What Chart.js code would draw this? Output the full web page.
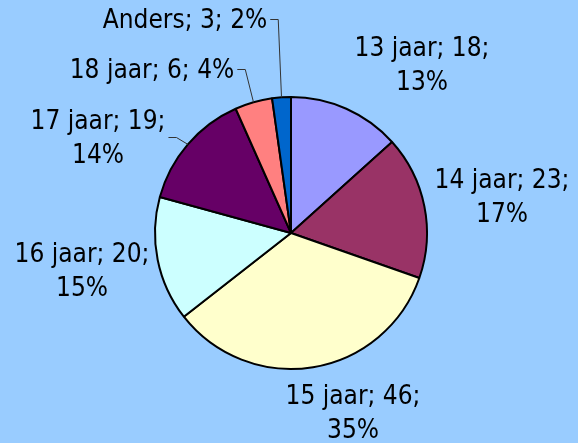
<!DOCTYPE html>
<html>
<head>
<meta charset="utf-8">
<script src="https://cdn.jsdelivr.net/npm/chart.js@4.4.0/dist/chart.umd.min.js"></script>
<style>
  html, body { margin: 0; padding: 0; background: #99CCFF; }
  #wrap { width: 578px; height: 443px; }
</style>
</head>
<body>
<div id="wrap"><canvas id="pie-chart" width="578" height="443"></canvas></div>
<script>
// data
var categories = ["13 jaar", "14 jaar", "15 jaar", "16 jaar", "17 jaar", "18 jaar", "Anders"];
var counts = [18, 23, 46, 20, 19, 6, 3];
var percents = ["13%", "17%", "35%", "15%", "14%", "4%", "2%"];
var sliceColors = ["#9999FF", "#993366", "#FFFFCC", "#CCFFFF", "#660066", "#FF8080", "#0066CC"];

// where each label sits, relative to the pie centre (x = text centre, y = first baseline)
var labelPlace = [
  { dx: 131, dy: -177, lines: 2, leader: false },
  { dx: 211, dy: -45, lines: 2, leader: false },
  { dx: 62, dy: 171, lines: 2, leader: false },
  { dx: -209, dy: 29, lines: 2, leader: false },
  { dx: -193, dy: -104, lines: 2, leader: true },
  { dx: -139, dy: -155, lines: 1, leader: true },
  { dx: -106, dy: -205, lines: 1, leader: true }
];

var labelFont = '26px "DejaVu Sans Condensed", "Liberation Sans", sans-serif';
var lineHeight = 34;

var pieLabels = {
  id: 'pieLabels',
  afterDatasetsDraw: function (chart) {
    var ctx = chart.ctx;
    var meta = chart.getDatasetMeta(0);
    ctx.save();
    ctx.font = labelFont;
    ctx.fillStyle = '#000';
    ctx.textAlign = 'center';
    ctx.textBaseline = 'alphabetic';
    meta.data.forEach(function (arc, i) {
      var p = labelPlace[i];
      var cx = arc.x + p.dx;
      var by = arc.y + p.dy;
      var lines;
      if (p.lines == 2) {
        lines = [categories[i] + "; " + counts[i] + ";", percents[i]];
      } else {
        lines = [categories[i] + "; " + counts[i] + "; " + percents[i]];
      }
      var maxW = 0;
      lines.forEach(function (t, k) {
        ctx.fillText(t, cx, by + k * lineHeight);
        maxW = Math.max(maxW, ctx.measureText(t).width);
      });
      // leader line from the label to the middle of the slice edge
      if (p.leader) {
        var mid = (arc.startAngle + arc.endAngle) / 2;
        var ex = arc.x + Math.cos(mid) * arc.outerRadius;
        var ey = arc.y + Math.sin(mid) * arc.outerRadius;
        var ly = by - 9 + (lines.length - 1) * lineHeight / 2;
        var lx = cx + maxW / 2 + 3;
        ctx.beginPath();
        ctx.strokeStyle = '#333';
        ctx.lineWidth = 1;
        ctx.moveTo(lx, ly + 0.5);
        ctx.lineTo(lx + 8, ly + 0.5);
        ctx.lineTo(ex, ey);
        ctx.stroke();
      }
    });
    ctx.restore();
  }
};

new Chart(document.getElementById("pie-chart"), {
  type: 'pie',
  data: {
    labels: categories,
    datasets: [{
      data: counts,
      backgroundColor: sliceColors,
      borderColor: '#000',
      borderWidth: 2
    }]
  },
  options: {
    responsive: false,
    animation: false,
    radius: 136,
    layout: { padding: { left: 4, top: 23, right: 0, bottom: 0 } },
    plugins: {
      legend: { display: false },
      tooltip: { enabled: false }
    }
  },
  plugins: [pieLabels]
});
</script>
</body>
</html>
